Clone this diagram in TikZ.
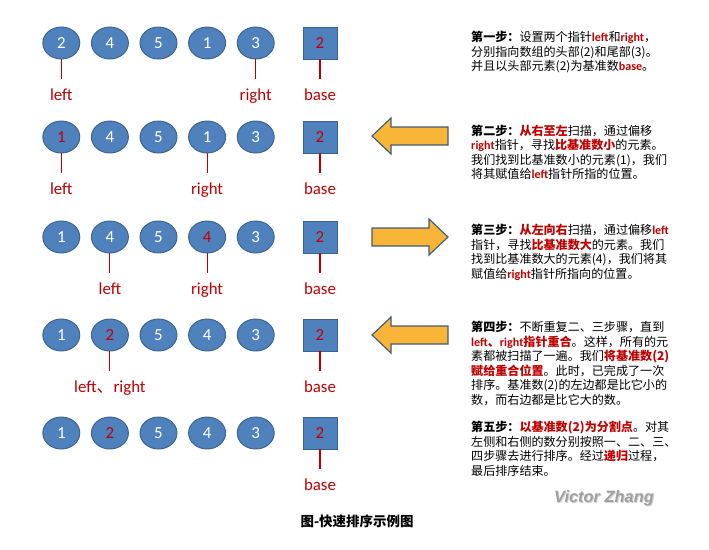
\documentclass[tikz,border=0pt]{standalone}
\usepackage{fontspec}
\usepackage{xcolor}
\usepackage{tikz}
\usetikzlibrary{positioning,shapes.geometric}
\setmainfont{Carlito}
\newfontfamily\cjk{Noto Sans CJK SC}
\newfontfamily\lat{Carlito}
\newfontfamily\wmfont{Liberation Sans}
\definecolor{knoten}{HTML}{4F81BD}
\definecolor{rand}{HTML}{3A6290}
\definecolor{zeiger}{HTML}{C00000}
\definecolor{pfeil}{HTML}{F9B537}
\definecolor{pfeilrand}{HTML}{3F5C7A}
\newcommand{\zr}[1]{\textcolor{zeiger}{#1}}
\newcommand{\zg}[1]{\textcolor{zeiger}{\textbf{#1}}}

\begin{document}
\begin{tikzpicture}[x=0.03cm, y=-0.03cm,
    elem/.style={ellipse, draw=rand, line width=0.8pt, fill=knoten, minimum width=1.11cm,
        minimum height=0.96cm, inner sep=0pt, text=white, font=\fontsize{14.4}{17}\selectfont},
    basis/.style={rectangle, draw=rand, line width=0.8pt, fill=knoten, minimum width=1.02cm,
        minimum height=0.96cm, inner sep=0pt, text=zeiger, font=\fontsize{14.4}{17}\selectfont},
    lbl/.style={text=zeiger, inner sep=0pt, text height=11pt, text depth=3pt,
        font=\fontsize{14.4}{17}\selectfont},
    zline/.style={zeiger, line width=1pt, shorten >=0.24cm},
    pfeilstil/.style={fill=pfeil, draw=pfeilrand, line width=1pt, line join=miter},
    schritt/.style={anchor=north west, align=left, inner sep=0pt,
        font=\cjk\fontsize{10.3}{12.4}\selectfont}]
    \useasboundingbox (0,0) rectangle (709,549);

    % Row 1: start
    \foreach \v [count=\i] in {2,4,5,1,3}
        \node[elem] (r1n\i) at ({12.7+48.6*\i},43) {\v};
    \node[basis] (r1b) at (320,43) {2};
    \node[lbl, below=0.84cm of r1n1] (r1l) {left};
    \node[lbl, below=0.84cm of r1n5] (r1r) {right};
    \node[lbl, below=0.84cm of r1b] (r1bl) {base};
    \draw[zline] (r1n1) -- (r1l);
    \draw[zline] (r1n5) -- (r1r);
    \draw[zline] (r1b) -- (r1bl);

    % Row 2: right to left
    \foreach \v [count=\i] in {\zr{1},4,5,1,3}
        \node[elem] (r2n\i) at ({12.7+48.6*\i},137) {\v};
    \node[basis] (r2b) at (320,137) {2};
    \node[lbl, below=0.84cm of r2n1] (r2l) {left};
    \node[lbl, below=0.84cm of r2n4] (r2r) {right};
    \node[lbl, below=0.84cm of r2b] (r2bl) {base};
    \draw[zline] (r2n1) -- (r2l);
    \draw[zline] (r2n4) -- (r2r);
    \draw[zline] (r2b) -- (r2bl);

    % Row 3: left to right
    \foreach \v [count=\i] in {1,4,5,\zr{4},3}
        \node[elem] (r3n\i) at ({12.7+48.6*\i},237) {\v};
    \node[basis] (r3b) at (320,237) {2};
    \node[lbl, below=0.84cm of r3n2] (r3l) {left};
    \node[lbl, below=0.84cm of r3n4] (r3r) {right};
    \node[lbl, below=0.84cm of r3b] (r3bl) {base};
    \draw[zline] (r3n2) -- (r3l);
    \draw[zline] (r3n4) -- (r3r);
    \draw[zline] (r3b) -- (r3bl);

    % Row 4: pointers meet
    \foreach \v [count=\i] in {1,\zr{2},5,4,3}
        \node[elem] (r4n\i) at ({12.7+48.6*\i},335) {\v};
    \node[basis] (r4b) at (320,335) {2};
    \node[lbl, below=0.84cm of r4n2] (r4lr) {left{\cjk 、}right};
    \node[lbl, below=0.84cm of r4b] (r4bl) {base};
    \draw[zline] (r4n2) -- (r4lr);
    \draw[zline] (r4b) -- (r4bl);

    % Row 5: split point
    \foreach \v [count=\i] in {1,\zr{2},5,4,3}
        \node[elem] (r5n\i) at ({12.7+48.6*\i},433) {\v};
    \node[basis] (r5b) at (320,433) {2};
    \node[lbl, below=0.84cm of r5b] (r5bl) {base};
    \draw[zline] (r5b) -- (r5bl);

    % Arrows
    \draw[pfeilstil, shift={(372,136)}] (0,0) -- (19,-18) -- (19,-9) -- (76,-9)
        -- (76,9) -- (19,9) -- (19,18) -- cycle;
    \draw[pfeilstil, shift={(448,237)}] (0,0) -- (-19,-18) -- (-19,-9) -- (-76,-9)
        -- (-76,9) -- (-19,9) -- (-19,18) -- cycle;
    \draw[pfeilstil, shift={(372,335)}] (0,0) -- (19,-18) -- (19,-9) -- (76,-9)
        -- (76,9) -- (19,9) -- (19,18) -- cycle;

    % Steps
    \node[schritt] (s1) at (471,31) {\textbf{第一步：}设置两个指针\zg{\lat left}和\zg{\lat right}，\\
        分别指向数组的头部(2)和尾部(3)。\\
        并且以头部元素(2)为基准数\zg{\lat base}。};
    \node[schritt] (s2) at (471,124.5) {\textbf{第二步：}\zg{从右至左}扫描，通过偏移\\
        \zg{\lat right}指针，寻找\zg{比基准数小}的元素。\\
        我们找到比基准数小的元素(1)，我们\\
        将其赋值给\zg{\lat left}指针所指的位置。};
    \node[schritt] (s3) at (471,224) {\textbf{第三步：}\zg{从左向右}扫描，通过偏移\zg{\lat left}\\
        指针，寻找\zg{比基准数大}的元素。我们\\
        找到比基准数大的元素(4)，我们将其\\
        赋值给\zg{\lat right}指针所指向的位置。};
    \node[schritt] (s4) at (471,321) {\textbf{第四步：}不断重复二、三步骤，直到\\
        \zg{{\lat left}、{\lat right}指针重合}。这样，所有的元\\
        素都被扫描了一遍。我们\zg{将基准数(2)}\\
        \zg{赋给重合位置}。此时，已完成了一次\\
        排序。基准数(2)的左边都是比它小的\\
        数，而右边都是比它大的数。};
    \node[schritt] (s5) at (471,421) {\textbf{第五步：}\zg{以基准数(2)为分割点}。对其\\
        左侧和右侧的数分别按照一、二、三、\\
        四步骤去进行排序。经过\zg{递归}过程，\\
        最后排序结束。};

    % Watermark and caption
    \node[font=\wmfont\bfseries\itshape\fontsize{14}{16}\selectfont, text=gray!35] (wms) at (605,499) {Victor Zhang};
    \node[font=\wmfont\bfseries\itshape\fontsize{14}{16}\selectfont, text=gray!75] (wm) at (604,498) {Victor Zhang};
    \node[font=\cjk\bfseries\fontsize{11.5}{14}\selectfont] (titel) at (357,521) {图-快速排序示例图};
\end{tikzpicture}
\end{document}
